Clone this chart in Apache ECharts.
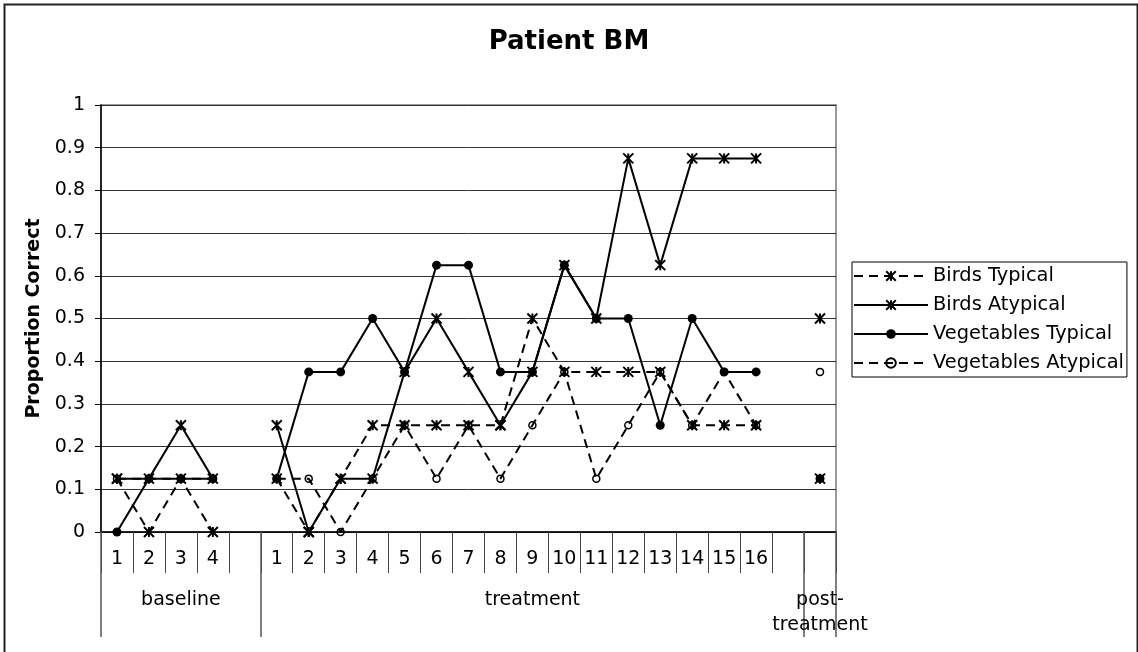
<!DOCTYPE html>
<html>
<head>
<meta charset="utf-8">
<script src="https://cdn.jsdelivr.net/npm/echarts@6/dist/echarts.min.js"></script>
<style>
html,body{margin:0;padding:0;background:#fff;}
#c{width:1138px;height:652px;}
</style>
</head>
<body>
<div id="c"></div>
<script>
// Category slots: baseline 1-4, gap, treatment 1-16, gap, post-treatment
const categories = ['1','2','3','4','', '1','2','3','4','5','6','7','8','9','10','11','12','13','14','15','16','', ''];
const groupLabels = ['', '', 'baseline', '', '', '', '', '', '', '', '', '', '', 'treatment', '', '', '', '', '', '', '', '', 'post-\ntreatment'];
const groupStarts = [0, 5, 22];
const yTickLabels = ['0','0.1','0.2','0.3','0.4','0.5','0.6','0.7','0.8','0.9','1'];

const birdsTypical = [0.125, 0, 0.125, 0, null,
  0.125, 0, 0.125, 0.25, 0.25, 0.25, 0.25, 0.25, 0.5, 0.375, 0.375, 0.375, 0.375, 0.25, 0.25, 0.25, null, 0.125];
const birdsAtypical = [0.125, 0.125, 0.25, 0.125, null,
  0.25, 0, 0.125, 0.125, 0.375, 0.5, 0.375, 0.25, 0.375, 0.625, 0.5, 0.875, 0.625, 0.875, 0.875, 0.875, null, 0.5];
const vegTypical = [0, 0.125, 0.125, 0.125, null,
  0.125, 0.375, 0.375, 0.5, 0.375, 0.625, 0.625, 0.375, 0.375, 0.625, 0.5, 0.5, 0.25, 0.5, 0.375, 0.375, null, 0.125];
const vegAtypical = [0.125, 0.125, 0.125, 0.125, null,
  0.125, 0.125, 0, 0.125, 0.25, 0.125, 0.25, 0.125, 0.25, 0.375, 0.125, 0.25, 0.375, 0.25, 0.375, 0.25, null, 0.375];

const FONT = 'DejaVu Sans';
const asterisk = 'path://M0,0L10,10M10,0L0,10M5,0L5,10';
const dash = [9, 6];

function mk(name, data, symbol, size, dashed, fill, bw, z) {
  return {
    name: name, type: 'line', data: data,
    symbol: symbol, symbolSize: size, showAllSymbol: true,
    connectNulls: false,
    lineStyle: { color: '#000', width: 2, type: dashed ? dash : 'solid' },
    itemStyle: { color: fill, borderColor: '#000', borderWidth: bw },
    emphasis: { disabled: true },
    animation: false, z: z
  };
}

const chart = echarts.init(document.getElementById('c'), null, { renderer: 'canvas' });
chart.setOption({
  animation: false,
  backgroundColor: '#fff',
  title: {
    text: 'Patient BM', left: 'center', top: 24,
    textStyle: { fontFamily: FONT, fontSize: 26, fontWeight: 'bold', color: '#000' }
  },
  graphic: [{
    type: 'rect', left: 2, top: 2, silent: true, z: -1,
    shape: { width: 1133, height: 670 },
    style: { fill: null, stroke: '#222', lineWidth: 2 }
  }],
  grid: { left: 101, right: 302, top: 105, bottom: 120, show: true, borderColor: '#999', borderWidth: 2, backgroundColor: '#fff' },
  legend: {
    orient: 'vertical', left: 852, top: 262,
    padding: [4, 3, 4, 1], itemWidth: 74, itemHeight: 12, itemGap: 9,
    borderColor: '#000', borderWidth: 1, backgroundColor: '#fff',
    textStyle: { fontFamily: FONT, fontSize: 19.4, color: '#000', lineHeight: 20 },
    data: ['Birds Typical', 'Birds Atypical', 'Vegetables Typical', 'Vegetables Atypical']
  },
  xAxis: [{
    type: 'category', data: categories, boundaryGap: true,
    axisLine: { show: true, lineStyle: { color: '#000', width: 1.5 } },
    axisTick: { show: true, interval: 0, length: 41, lineStyle: { color: '#444', width: 1 } },
    axisLabel: { interval: 0, margin: 18, fontFamily: FONT, fontSize: 19, color: '#000' },
    splitLine: { show: false }
  }, {
    type: 'category', data: groupLabels.map((g, i) => i), boundaryGap: true, position: 'bottom',
    axisLine: { show: false },
    axisTick: { show: true, length: 105, interval: function (idx) { return groupStarts.indexOf(idx) >= 0; }, lineStyle: { color: '#555', width: 1.5 } },
    axisLabel: { interval: 0, margin: 56, fontFamily: FONT, fontSize: 19, color: '#000', lineHeight: 25,
      formatter: function (v, i) { return groupLabels[i]; } },
    splitLine: { show: false }
  }],
  yAxis: {
    type: 'value', min: 0, max: 1, interval: 0.1,
    name: 'Proportion Correct', nameLocation: 'middle', nameRotate: 90, nameGap: 55,
    nameTextStyle: { fontFamily: FONT, fontSize: 19, fontWeight: 'bold', color: '#000' },
    axisLine: { show: true, lineStyle: { color: '#000', width: 1.5 } },
    axisTick: { show: true, length: 6, lineStyle: { color: '#000' } },
    axisLabel: { margin: 16, fontFamily: FONT, fontSize: 19, color: '#000',
      formatter: function (v) { return yTickLabels[Math.round(v * 10)]; } },
    splitLine: { show: true, lineStyle: { color: '#333', width: 1 } }
  },
  series: [
    mk('Vegetables Atypical', vegAtypical, 'circle', 7, true, 'rgba(0,0,0,0)', 1.5, 2),
    mk('Vegetables Typical', vegTypical, 'circle', 9, false, '#000', 0, 3),
    mk('Birds Typical', birdsTypical, asterisk, 10, true, '#000', 2, 4),
    mk('Birds Atypical', birdsAtypical, asterisk, 10, false, '#000', 2, 5)
  ]
});
</script>
</body>
</html>
